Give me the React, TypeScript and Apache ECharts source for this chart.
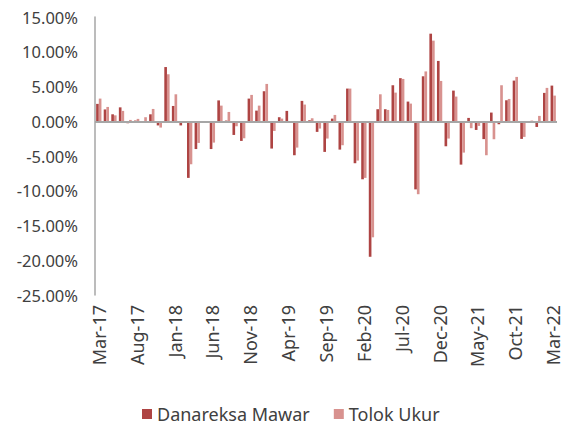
import React, { useEffect, useRef } from "react";
import * as echarts from "echarts";

const categories = [
  "Mar-17","Apr-17","May-17","Jun-17","Jul-17","Aug-17","Sep-17","Oct-17","Nov-17","Dec-17",
  "Jan-18","Feb-18","Mar-18","Apr-18","May-18","Jun-18","Jul-18","Aug-18","Sep-18","Oct-18",
  "Nov-18","Dec-18","Jan-19","Feb-19","Mar-19","Apr-19","May-19","Jun-19","Jul-19","Aug-19",
  "Sep-19","Oct-19","Nov-19","Dec-19","Jan-20","Feb-20","Mar-20","Apr-20","May-20","Jun-20",
  "Jul-20","Aug-20","Sep-20","Oct-20","Nov-20","Dec-20","Jan-21","Feb-21","Mar-21","Apr-21",
  "May-21","Jun-21","Jul-21","Aug-21","Sep-21","Oct-21","Nov-21","Dec-21","Jan-22","Feb-22",
  "Mar-22",
];

const danareksaMawar = [
  2.5, 1.7, 1.0, 2.0, -0.3, 0.1, -0.2, 1.0, -0.6, 7.8,
  2.2, -0.6, -8.15, -4.0, 0.0, -4.0, 3.0, 0.1, -1.97, -2.83,
  3.26, 1.53, 4.32, -3.93, 0.58, 1.49, -4.89, 2.93, 0.14, -1.53,
  -4.41, 0.38, -4.08, 4.7, -6.04, -8.35, -19.5, 1.73, 1.73, 5.18,
  6.2, 2.83, -9.8, 6.47, 12.6, 8.68, -3.6, 4.41, -6.24, 0.48,
  -1.25, -2.57, 1.25, -0.43, 3.02, 5.85, -2.54, 0.0, -0.82, 4.08,
  5.13,
];

const tolokUkur = [
  3.26, 2.06, 0.85, 1.49, 0.19, 0.34, 0.58, 1.77, -0.91, 6.76,
  3.88, 0.0, -6.19, -3.12, -0.2, -3.07, 2.25, 1.34, -0.72, -2.45,
  3.79, 2.25, 5.37, -1.39, 0.38, -0.24, -3.79, 2.4, 0.43, -1.05,
  -2.49, 0.91, -3.45, 4.7, -5.66, -8.15, -16.7, 3.88, 1.63, 4.12,
  6.09, 2.54, -10.5, 7.17, 11.6, 5.8, -2.49, 3.55, -4.51, -1.0,
  -0.67, -4.89, -2.59, 5.18, 3.21, 6.38, -2.25, 0.1, 0.77, 4.8,
  3.69,
];

const seriesNames = ["Danareksa Mawar", "Tolok Ukur"];
const yMin = -25;
const yMax = 15;
const yStep = 5;

export default function App() {
  const ref = useRef<HTMLDivElement>(null);
  useEffect(() => {
    if (!ref.current) return;
    const chart = echarts.init(ref.current, null, { renderer: "svg" });
    const font = "'Noto Sans', sans-serif";
    chart.setOption({
      animation: false,
      backgroundColor: "#ffffff",
      grid: { left: 95, right: 17, top: 17, bottom: 130, containLabel: false },
      legend: {
        top: 404,
        left: 142,
        padding: 0,
        itemWidth: 10,
        itemHeight: 10,
        itemGap: 24,
        icon: "rect",
        textStyle: { fontFamily: font, fontSize: 18, lineHeight: 20, color: "#404040" },
        data: seriesNames,
      },
      xAxis: {
        type: "category",
        data: categories,
        axisLine: { show: false, onZero: false },
        axisTick: { show: false },
        axisLabel: {
          interval: 4,
          rotate: 90,
          margin: 10,
          fontFamily: font,
          fontSize: 18,
          color: "#404040",
        },
      },
      yAxis: {
        type: "value",
        min: yMin,
        max: yMax,
        interval: yStep,
        axisLine: { show: true, lineStyle: { color: "#a6a6a6", width: 1.5 } },
        axisTick: { show: false },
        splitLine: { show: false },
        axisLabel: {
          margin: 17,
          fontFamily: font,
          fontSize: 16.5,
          color: "#404040",
          formatter: (v: number) => v.toFixed(2) + "%",
        },
      },
      series: [
        {
          name: seriesNames[0],
          type: "bar",
          data: danareksaMawar,
          barGap: "0%",
          barCategoryGap: "30%",
          itemStyle: { color: "#ae4443" },
          markLine: {
            silent: true,
            symbol: "none",
            label: { show: false },
            lineStyle: { color: "#a6a6a6", width: 2, type: "solid" },
            data: [{ yAxis: 0 }],
          },
        },
        {
          name: seriesNames[1],
          type: "bar",
          data: tolokUkur,
          barGap: "0%",
          barCategoryGap: "30%",
          itemStyle: { color: "#d8928f" },
        },
      ],
    });
    return () => chart.dispose();
  }, []);
  return (
    <div
      ref={ref}
      style={{ position: "fixed", left: 0, top: 0, width: 574, height: 425, background: "#fff" }}
    />
  );
}
